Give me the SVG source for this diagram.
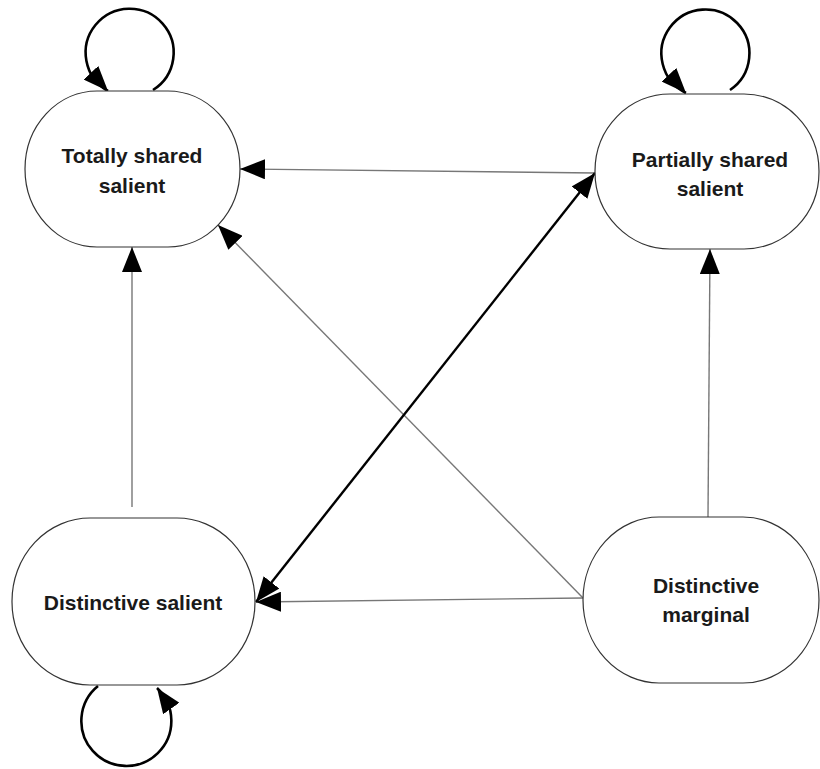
<svg xmlns="http://www.w3.org/2000/svg" width="820" height="769" viewBox="0 0 820 769">
<defs>
<marker id="ah" viewBox="0 0 25 20" refX="25" refY="10" markerWidth="25" markerHeight="20" markerUnits="userSpaceOnUse" orient="auto">
<path d="M0,0 L25,10 L0,20 z" fill="#000"/>
</marker>
<marker id="ahs" viewBox="0 0 25 20" refX="25" refY="10" markerWidth="25" markerHeight="20" markerUnits="userSpaceOnUse" orient="auto-start-reverse">
<path d="M0,0 L25,10 L0,20 z" fill="#000"/>
</marker>
<marker id="ah45" viewBox="0 0 25 20" refX="25" refY="10" markerWidth="25" markerHeight="20" markerUnits="userSpaceOnUse" orient="47">
<path d="M0,0 L25,10 L0,20 z" fill="#000"/>
</marker>
<marker id="ahup" viewBox="0 0 25 20" refX="25" refY="10" markerWidth="25" markerHeight="20" markerUnits="userSpaceOnUse" orient="-125">
<path d="M0,0 L25,10 L0,20 z" fill="#000"/>
</marker>
<style>
.node{fill:#fff;stroke:#333;stroke-width:1.2}
.lbl{font-family:"Liberation Sans",Arial,sans-serif;font-weight:bold;font-size:21px;fill:#1a1a1a;text-anchor:middle}
.thin{fill:none;stroke:#777;stroke-width:1.4}
.thick{fill:none;stroke:#000;stroke-width:2.4}
.loop{fill:none;stroke:#000;stroke-width:2.6}
</style>
</defs>
<rect width="820" height="769" fill="#fff"/>
<g id="connectors">
<path class="thin" d="M595,173 L240,169" marker-end="url(#ah)"/>
<path class="thin" d="M583,598 L218,225" marker-end="url(#ah)"/>
<path class="thin" d="M132,507 L132,247" marker-end="url(#ah)"/>
<path class="thin" d="M708,517 L710,249" marker-end="url(#ah)"/>
<path class="thin" d="M583,598 L256,602" marker-end="url(#ah)"/>
<path class="thick" d="M256,602 L595,173" marker-start="url(#ahs)" marker-end="url(#ah)"/>
<path class="loop" d="M153,90 A44,44 0 1 0 108,91" marker-end="url(#ah45)"/>
<path class="loop" d="M730,90 A44,44 0 1 0 686,93" marker-end="url(#ah45)"/>
<path class="loop" d="M98,686 A45,45 0 1 0 157,688" marker-end="url(#ahup)"/>
</g>
<g id="n-totally">
<rect class="node" x="25" y="91" width="215" height="156" rx="72" ry="78"/>
<text class="lbl" x="132" y="163">Totally shared</text>
<text class="lbl" x="132" y="193">salient</text>
</g>
<g id="n-partially">
<rect class="node" x="595" y="94" width="224" height="155" rx="75" ry="77"/>
<text class="lbl" x="710" y="167">Partially shared</text>
<text class="lbl" x="710" y="196">salient</text>
</g>
<g id="n-dsalient">
<rect class="node" x="12" y="518" width="243" height="167" rx="78" ry="83"/>
<text class="lbl" x="133" y="610">Distinctive salient</text>
</g>
<g id="n-dmarginal">
<rect class="node" x="583" y="517" width="236" height="166" rx="76" ry="83"/>
<text class="lbl" x="706" y="593">Distinctive</text>
<text class="lbl" x="706" y="622">marginal</text>
</g>
</svg>
